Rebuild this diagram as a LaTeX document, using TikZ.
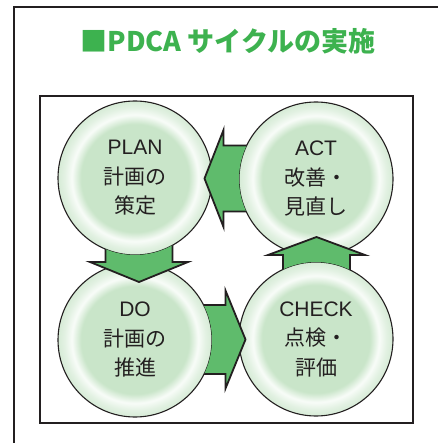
\documentclass[tikz,border=0pt]{standalone}
\usepackage{fontspec}
\setmainfont{Liberation Sans}
\newfontfamily\jp{Noto Sans CJK JP}
\usetikzlibrary{calc}
\definecolor{titlegreen}{HTML}{3DB24F}
\definecolor{arrowgreen}{HTML}{5FBB6C}
\definecolor{cin}{HTML}{C9E5C9}
\definecolor{cwhite}{HTML}{F8FCF8}
\definecolor{cmid}{HTML}{E2F1E2}
\definecolor{cedge}{HTML}{D6EBD6}
\definecolor{ink}{HTML}{231F20}
\pgfdeclareradialshading{ringshade}{\pgfpoint{0bp}{0bp}}{color(0bp)=(cin); color(17.5bp)=(cin); color(20.5bp)=(cwhite); color(23bp)=(cmid); color(25bp)=(cedge); color(50bp)=(cedge)}
\tikzset{
  frameline/.style={draw=ink, line width=2pt},
  phase/.style={circle, draw=ink, line width=1.1pt, minimum size=154pt, inner sep=0pt,
    shade, shading=ringshade, text=ink, align=center,
    font=\fontsize{21}{29.5}\selectfont},
  arrowbox/.style={fill=arrowgreen, draw=ink, line width=1.8pt, line join=miter},
  titletext/.style={font=\jp\bfseries\fontsize{27}{27}\selectfont, text=titlegreen}
}
\begin{document}
\begin{tikzpicture}[x=1pt,y=-1pt]
\useasboundingbox (0,0) rectangle (437,443);
% outer frame (open on right and bottom)
\draw[frameline] (14,450) -- (14,7) -- (450,7);
% title
\node[titletext] (title) at (228,41) {■PDCA サイクルの実施};
% inner frame
\draw[frameline] (40,96) rectangle (413,423);
% circles
\node[phase] (plan)  at (135,178) {PLAN\\{\jp 計画の}\\{\jp 策定}};
\node[phase] (act)   at (316,179) {ACT\\{\jp 改善・}\\{\jp 見直し}};
\node[phase] (do)    at (135,340) {DO\\{\jp 計画の}\\{\jp 推進}};
\node[phase] (check) at (316,339) {CHECK\\{\jp 点検・}\\{\jp 評価}};
% arrow mid points
\coordinate (mAP) at ($(plan)!0.5!(act)$);
\coordinate (mPD) at ($(plan)!0.5!(do)+(4,0)$);
\coordinate (mDC) at ($(do)!0.5!(check)$);
\coordinate (mCA) at ($(check)!0.5!(act)+(0.5,0)$);
% ACT -> PLAN (left)
\begin{scope}[even odd rule]
\clip (-10,-10) rectangle (450,450) (act.center) circle[radius=77pt];
\draw[arrowbox] ([shift={(45,-33)}]mAP) -- ([shift={(-2,-33)}]mAP) -- ([shift={(-2,-48.5)}]mAP)
  -- ([shift={(-21,0)}]mAP) -- ([shift={(-2,48.5)}]mAP) -- ([shift={(-2,33)}]mAP) -- ([shift={(45,33)}]mAP) -- cycle;
\end{scope}
% PLAN -> DO (down)
\begin{scope}[even odd rule]
\clip (-10,-10) rectangle (450,450) (plan.center) circle[radius=77pt];
\draw[arrowbox] ([shift={(-33.5,-45)}]mPD) -- ([shift={(-33.5,3)}]mPD) -- ([shift={(-49,3)}]mPD)
  -- ([shift={(0,23)}]mPD) -- ([shift={(49,3)}]mPD) -- ([shift={(33.5,3)}]mPD) -- ([shift={(33.5,-45)}]mPD) -- cycle;
\end{scope}
% DO -> CHECK (right)
\begin{scope}[even odd rule]
\clip (-10,-10) rectangle (450,450) (do.center) circle[radius=77pt];
\draw[arrowbox] ([shift={(-45,-34.5)}]mDC) -- ([shift={(0,-34.5)}]mDC) -- ([shift={(0,-49)}]mDC)
  -- ([shift={(20,0)}]mDC) -- ([shift={(0,49)}]mDC) -- ([shift={(0,34.5)}]mDC) -- ([shift={(-45,34.5)}]mDC) -- cycle;
\end{scope}
% CHECK -> ACT (up)
\begin{scope}[even odd rule]
\clip (-10,-10) rectangle (450,450) (check.center) circle[radius=77pt];
\draw[arrowbox] ([shift={(-33.5,45)}]mCA) -- ([shift={(-33.5,-4)}]mCA) -- ([shift={(-48.5,-4)}]mCA)
  -- ([shift={(0,-22)}]mCA) -- ([shift={(48.5,-4)}]mCA) -- ([shift={(33.5,-4)}]mCA) -- ([shift={(33.5,45)}]mCA) -- cycle;
\end{scope}
\end{tikzpicture}
\end{document}
